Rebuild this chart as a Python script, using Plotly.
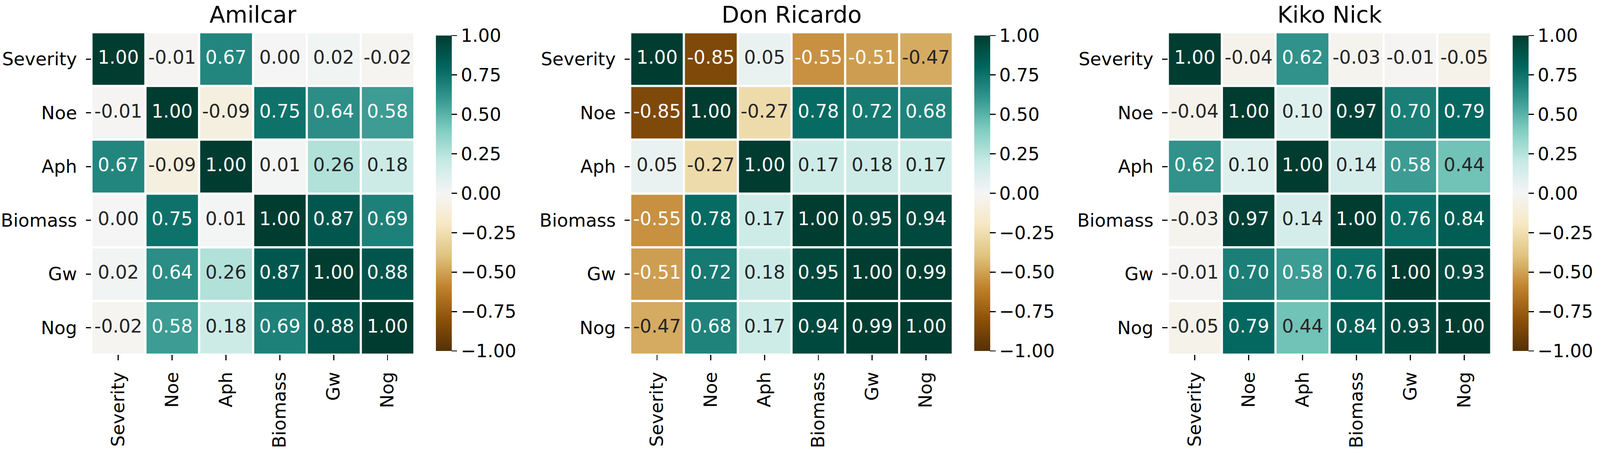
import plotly.graph_objects as go

W, H = 4324, 1218

variables = ["Severity", "Noe", "Aph", "Biomass", "Gw", "Nog"]
titles = ["Amilcar", "Don Ricardo", "Kiko Nick"]

amilcar = [
    [1.00, -0.01, 0.67, 0.00, 0.02, -0.02],
    [-0.01, 1.00, -0.09, 0.75, 0.64, 0.58],
    [0.67, -0.09, 1.00, 0.01, 0.26, 0.18],
    [0.00, 0.75, 0.01, 1.00, 0.87, 0.69],
    [0.02, 0.64, 0.26, 0.87, 1.00, 0.88],
    [-0.02, 0.58, 0.18, 0.69, 0.88, 1.00],
]
don_ricardo = [
    [1.00, -0.85, 0.05, -0.55, -0.51, -0.47],
    [-0.85, 1.00, -0.27, 0.78, 0.72, 0.68],
    [0.05, -0.27, 1.00, 0.17, 0.18, 0.17],
    [-0.55, 0.78, 0.17, 1.00, 0.95, 0.94],
    [-0.51, 0.72, 0.18, 0.95, 1.00, 0.99],
    [-0.47, 0.68, 0.17, 0.94, 0.99, 1.00],
]
kiko_nick = [
    [1.00, -0.04, 0.62, -0.03, -0.01, -0.05],
    [-0.04, 1.00, 0.10, 0.97, 0.70, 0.79],
    [0.62, 0.10, 1.00, 0.14, 0.58, 0.44],
    [-0.03, 0.97, 0.14, 1.00, 0.76, 0.84],
    [-0.01, 0.70, 0.58, 0.76, 1.00, 0.93],
    [-0.05, 0.79, 0.44, 0.84, 0.93, 1.00],
]
matrices = [amilcar, don_ricardo, kiko_nick]
cbar_ticks = [-1.0, -0.75, -0.5, -0.25, 0.0, 0.25, 0.5, 0.75, 1.0]

FONT = "DejaVu Sans"
TICK_SIZE = 49
ANNOT_SIZE = 50
TITLE_SIZE = 62

# pixel layout (left, right) of each heatmap and colorbar left
heat_px = [(247, 1120), (1703, 2575), (3156, 4030)]
cbar_left_px = [1178, 2633, 4088]
top_px, bottom_px = 87, 958
cbar_top, cbar_bottom = 96, 948

fig = go.Figure()
for i, (mat, title) in enumerate(zip(matrices, titles)):
    xa = "x" if i == 0 else f"x{i+1}"
    ya = "y" if i == 0 else f"y{i+1}"
    fig.add_trace(go.Heatmap(
        z=mat, x=variables, y=variables,
        colorscale="BrBG", zmin=-1, zmax=1,
        xgap=6, ygap=6, xaxis=xa, yaxis=ya,
        hoverinfo="skip",
        colorbar=dict(
            x=cbar_left_px[i] / W, xanchor="left", xpad=0, ypad=0,
            y=1 - (cbar_top + cbar_bottom) / 2 / H, yanchor="middle",
            len=cbar_bottom - cbar_top, lenmode="pixels",
            thickness=43, thicknessmode="pixels",
            outlinewidth=0,
            tickvals=cbar_ticks, tickformat=".2f",
            ticks="outside", ticklen=15, tickwidth=3, tickcolor="black",
            tickfont=dict(family=FONT, size=TICK_SIZE, color="black"),
        ),
    ))
    xs, ys, txt, cols = [], [], [], []
    for r, row in enumerate(mat):
        for c, v in enumerate(row):
            xs.append(variables[c]); ys.append(variables[r])
            txt.append(f"{v:.2f}")
            cols.append("white" if abs(v) > 0.5 else "#262626")
    fig.add_trace(go.Scatter(
        x=xs, y=ys, text=txt, mode="text", xaxis=xa, yaxis=ya,
        textfont=dict(family=FONT, size=ANNOT_SIZE, color=cols),
        hoverinfo="skip", showlegend=False,
    ))
    l, r = heat_px[i]
    axis_common = dict(
        showgrid=False, zeroline=False, showline=False, automargin=False,
        ticks="outside", ticklen=14, tickwidth=3, tickcolor="black",
        tickfont=dict(family=FONT, size=TICK_SIZE, color="black"),
        type="category",
    )
    fig.update_layout(**{
        ("xaxis" if i == 0 else f"xaxis{i+1}"): dict(
            domain=[l / W, r / W], anchor=ya, tickangle=-90,
            ticklabelstandoff=12, range=[-0.5, 5.5], **axis_common),
        ("yaxis" if i == 0 else f"yaxis{i+1}"): dict(
            domain=[1 - bottom_px / H, 1 - top_px / H], anchor=xa,
            range=[5.5, -0.5], ticklabelstandoff=14, **axis_common),
    })
    fig.add_annotation(
        text=title, xref="paper", yref="paper",
        x=(l + r) / 2 / W, y=1 - 39 / H, xanchor="center", yanchor="middle",
        showarrow=False, font=dict(family=FONT, size=TITLE_SIZE, color="black"),
    )

fig.update_layout(
    width=W, height=H, margin=dict(l=0, r=0, t=0, b=0, autoexpand=False),
    paper_bgcolor="white", plot_bgcolor="white", showlegend=False,
)

fit_script = """
document.body.style.margin = '0';
document.body.style.overflow = 'hidden';
var gd = document.getElementById('{plot_id}');
var s = Math.min(window.innerWidth / %d, window.innerHeight / %d);
gd.style.transformOrigin = '0 0';
gd.style.transform = 'scale(' + s + ')';
""" % (W, H)

fig.write_html("out.html", post_script=fit_script,
               config={"displayModeBar": False, "staticPlot": True})
